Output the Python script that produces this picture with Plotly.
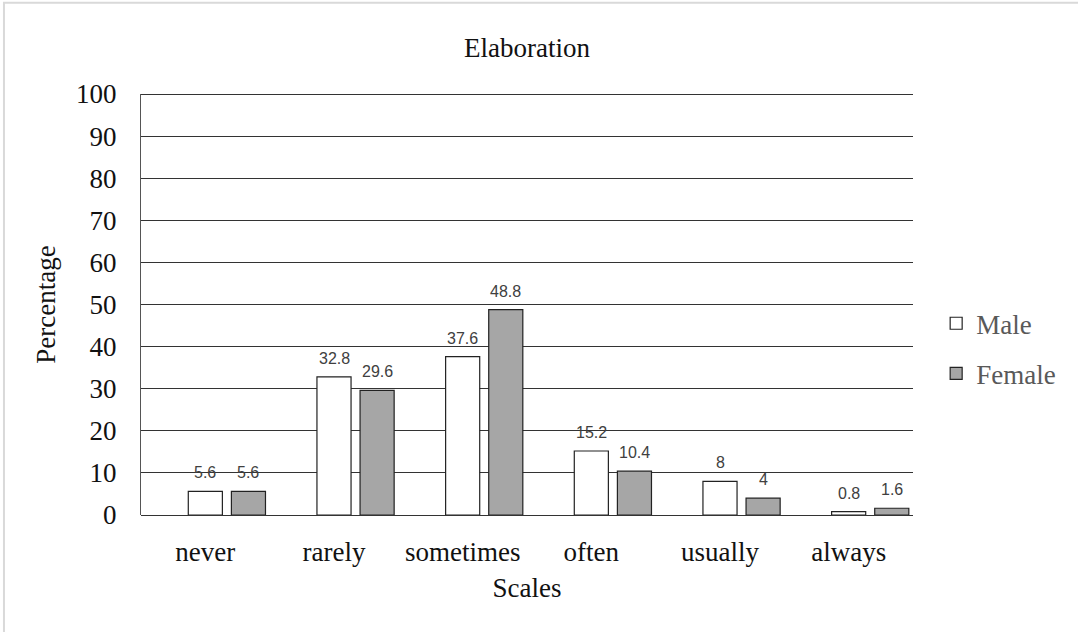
import plotly.graph_objects as go

# Response scale categories and the share of respondents (%) per gender
scales = ["never", "rarely", "sometimes", "often", "usually", "always"]
male = [5.6, 32.8, 37.6, 15.2, 8, 0.8]
female = [5.6, 29.6, 48.8, 10.4, 4, 1.6]

Y_MAX = 100

SERIF = "Liberation Serif, Times New Roman, serif"
SANS = "Liberation Sans, Arial, sans-serif"

BAR_W = 0.265
MALE_OFF = -0.1325
FEMALE_OFF = 0.2025

fig = go.Figure()
fig.add_trace(go.Bar(
    name="Male", x=scales, y=male,
    marker=dict(color="white", line=dict(color="#222222", width=1.2)),
    width=BAR_W, offset=MALE_OFF, legendgroup="m",
))
fig.add_trace(go.Bar(
    name="Female", x=scales, y=female,
    marker=dict(color="#A6A6A6", line=dict(color="#222222", width=1.2)),
    width=BAR_W, offset=FEMALE_OFF, legendgroup="f",
))

# value labels above each bar
for i, (m, f) in enumerate(zip(male, female)):
    for val, off in ((m, MALE_OFF), (f, FEMALE_OFF)):
        fig.add_annotation(
            x=i + off + BAR_W / 2, y=val, xref="x", yref="y",
            text=f"{val:g}", showarrow=False, yanchor="bottom", yshift=8,
            font=dict(family=SANS, size=16, color="#404040"),
        )

# gridline along the top of the value axis (half of it is clipped at the edge)
fig.add_shape(type="line", xref="paper", yref="y", x0=0, x1=1, y0=Y_MAX, y1=Y_MAX,
              line=dict(color="#333333", width=2), layer="below")

# light frame around the chart area
fig.add_shape(type="rect", xref="paper", yref="paper",
              x0=-0.1775, x1=1.25, y0=-0.3, y1=1.217,
              line=dict(color="#D9D9D9", width=2), layer="below")

fig.update_layout(
    width=1078, height=632,
    margin=dict(l=141, r=165, t=94, b=117),
    paper_bgcolor="white", plot_bgcolor="white",
    barmode="overlay",
    title=dict(text="Elaboration", x=0.5, xref="paper", y=0.925, yanchor="middle",
               font=dict(family=SERIF, size=27, color="#111111")),
    legend=dict(x=1.03, y=0.395, xanchor="left", yanchor="middle",
                font=dict(family=SERIF, size=27, color="#595959"),
                traceorder="grouped", tracegroupgap=12, itemwidth=30),
    xaxis=dict(
        type="category", range=[-0.5, 5.5],
        showgrid=False, showline=False, ticks="", ticklen=0,
        ticklabelstandoff=18,
        tickfont=dict(family=SERIF, size=27, color="#111111"),
        title=dict(text="Scales", standoff=12,
                   font=dict(family=SERIF, size=27, color="#111111")),
    ),
    yaxis=dict(
        range=[0, Y_MAX], dtick=10, tick0=0,
        showgrid=True, gridcolor="#333333", gridwidth=1,
        showline=True, linecolor="#555555", linewidth=1.2,
        zeroline=True, zerolinecolor="#333333", zerolinewidth=1,
        ticks="", ticklabelstandoff=18,
        tickfont=dict(family=SERIF, size=27, color="#111111"),
        title=dict(text="Percentage", standoff=12,
                   font=dict(family=SERIF, size=27, color="#111111")),
    ),
    showlegend=True,
)

fig.write_html("out.html")
